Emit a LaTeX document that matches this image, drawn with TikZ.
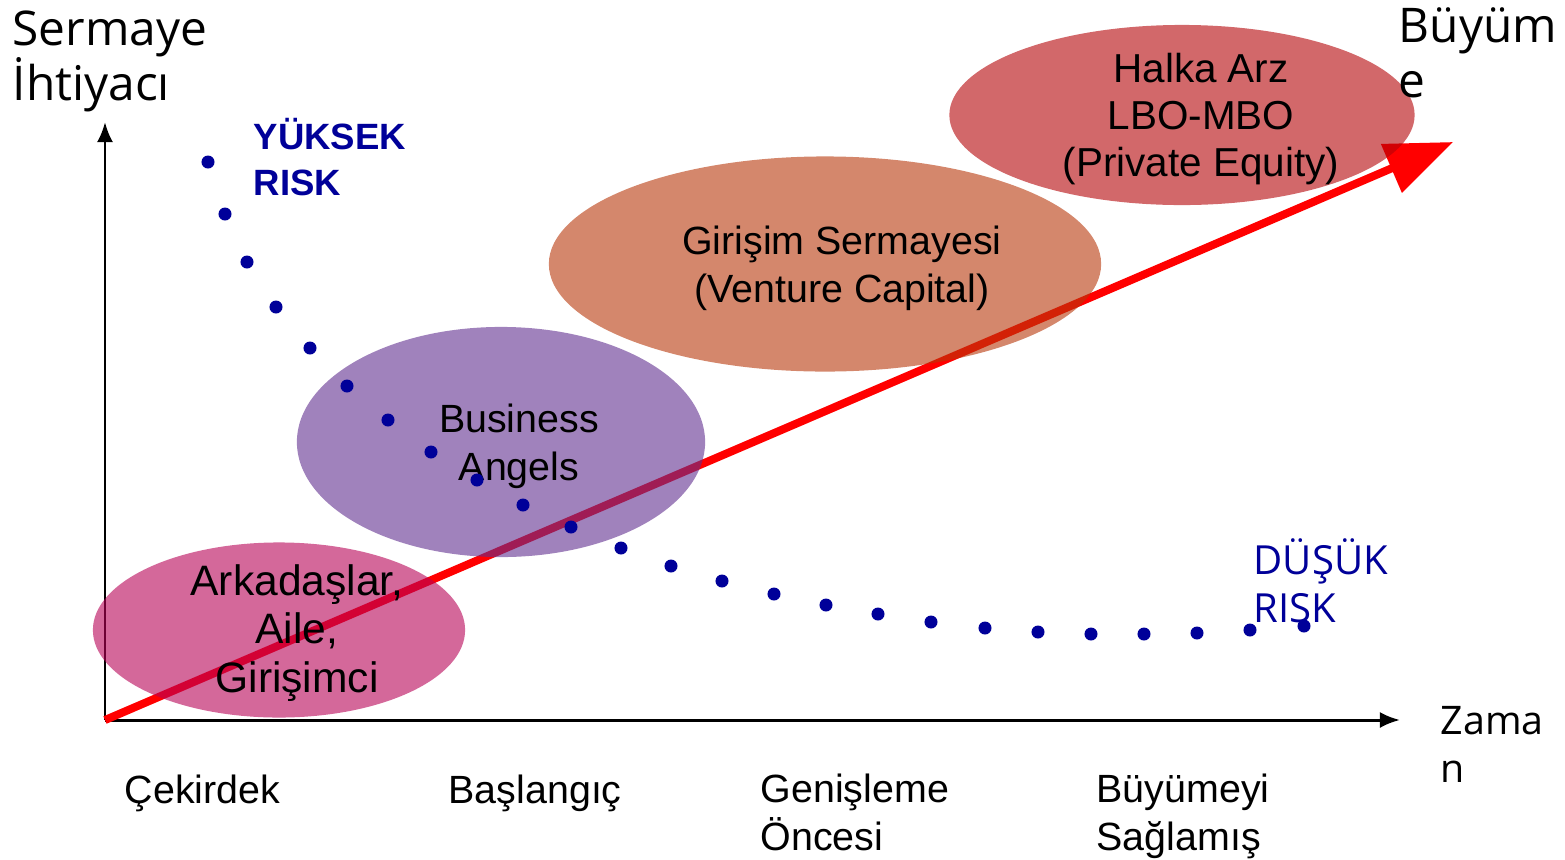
\documentclass[tikz,border=0pt]{standalone}
\usepackage{fontspec}
\setmainfont{Liberation Sans}
\newfontfamily\humanfont{Open Sans}
\usetikzlibrary{arrows.meta,shapes.geometric}

\definecolor{friendsfill}{RGB}{183,3,87}
\definecolor{angelsfill}{RGB}{97,47,143}
\definecolor{venturefill}{RGB}{183,55,10}
\definecolor{equityfill}{RGB}{180,3,7}
\definecolor{riskblue}{RGB}{0,0,153}

\tikzset{
	axis/.style={line width=0.85pt, -{Latex[length=0.2cm,width=0.16cm]}},
	growtharrow/.style={red, line width=0.08cm, -{Triangle[length=0.67cm,width=0.51cm]}},
	stage/.style={ellipse, fill opacity=0.6, inner sep=0pt},
	stagetext/.style={align=center, font=\fontsize{11.2}{13.7}\selectfont},
	riskdot/.style={circle, fill=riskblue, inner sep=0pt, minimum size=0.13cm},
	steplabel/.style={anchor=base west, align=left, inner sep=0pt, font=\fontsize{11.2}{13.4}\selectfont},
	bigaxislabel/.style={anchor=base west, align=left, inner sep=0pt, font=\humanfont\fontsize{13.6}{15.6}\selectfont},
}

\begin{document}
\begin{tikzpicture}[x=0.01cm,y=-0.01cm]
	\useasboundingbox (0,0) rectangle (1565,860);

	%eksenler
	\coordinate (origin) at (105,720);
	\coordinate (ytop) at (105,122);
	\coordinate (xend) at (1400,720);
	\draw[axis] (origin) -- (ytop);
	\draw[axis] (origin) -- (xend);

	%buyume oku
	\coordinate (growth) at (1453,142);
	\draw[growtharrow] (origin) -- (growth);

	%asamalar
	\node[stage, fill=friendsfill, minimum width=3.72cm, minimum height=1.75cm] (friends) at (279,630) {};
	\node[stage, fill=angelsfill, minimum width=4.08cm, minimum height=2.30cm] (angels) at (501,442) {};
	\node[stage, fill=venturefill, minimum width=5.52cm, minimum height=2.15cm] (venture) at (825,264) {};
	\node[stage, fill=equityfill, minimum width=4.65cm, minimum height=1.80cm] (equity) at (1182,115) {};

	\node[stagetext, font=\fontsize{12.1}{13.9}\selectfont] (friendstext) at (297,633) {Arkadaşlar,\\Aile,\\Girişimci};
	\node[stagetext] (angelstext) at (519,446) {Business\\Angels};
	\node[stagetext] (venturetext) at (842,268) {Girişim Sermayesi\\(Venture Capital)};
	\node[stagetext, font=\fontsize{11.5}{13.4}\selectfont] (equitytext) at (1201,119) {Halka Arz\\LBO-MBO\\(Private Equity)};

	%risk egrisi
	\foreach \px/\py [count=\i] in {208/162, 225/214, 247/262, 276/307, 310/348, 347/386, 388/420, 431/452, 477/480, 523/505, 571/527, 621/548, 671/566, 722/581, 774/594, 826/605, 878/614, 931/622, 985/628, 1038/632, 1091/634, 1144/634, 1197/633, 1250/630, 1304/626}
		\node[riskdot] (dot\i) at (\px,\py) {};

	\node[anchor=base west, align=left, inner sep=0pt, text=riskblue, font=\bfseries\fontsize{10.4}{12.8}\selectfont] (highrisk) at (253,195) {YÜKSEK\\RISK};
	\node[anchor=base west, align=left, inner sep=0pt, text=riskblue, font=\humanfont\fontsize{11.4}{13.4}\selectfont] (lowrisk) at (1253,622) {DÜŞÜK\\RISK};

	%eksen yazilari
	\node[bigaxislabel] (need) at (12,100) {Sermaye\\İhtiyacı};
	\node[bigaxislabel] (growthlabel) at (1398,97) {Büyüm\\e};
	\node[bigaxislabel, font=\humanfont\fontsize{11.2}{13.4}\selectfont] (time) at (1440,782) {Zama\\n};

	\node[steplabel] (seed) at (124,803) {Çekirdek};
	\node[steplabel] (startup) at (448,803) {Başlangıç};
	\node[steplabel] (expansion) at (760,850) {Genişleme\\Öncesi};
	\node[steplabel] (mature) at (1096,850) {Büyümeyi\\Sağlamış};
\end{tikzpicture}
\end{document}
